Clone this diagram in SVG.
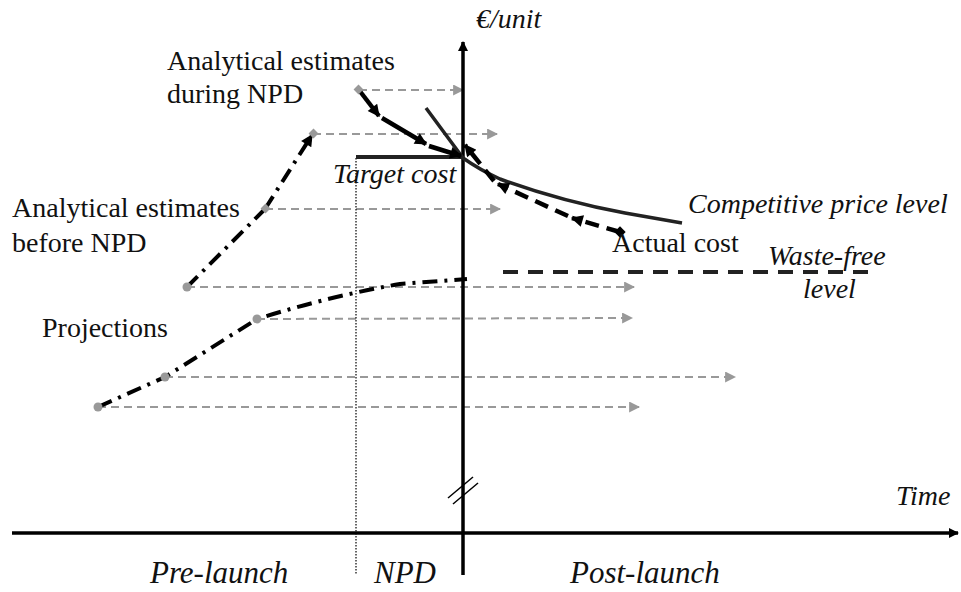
<svg xmlns="http://www.w3.org/2000/svg" width="961" height="592" viewBox="0 0 961 592">
<defs>
<style>
.t{font-family:'Liberation Serif','Times New Roman',Tinos,'DejaVu Serif',serif;font-size:28px;fill:#111}
.i{font-style:italic}
.b{font-size:31px}
.g{stroke:#999;stroke-width:2;stroke-dasharray:8 5;fill:none}
.dd{stroke:#000;stroke-width:4;stroke-dasharray:15 7 3 7;fill:none}
.bk{stroke:#000;stroke-width:4.5;fill:none}
.ad{stroke:#000;stroke-width:4.5;stroke-dasharray:14 8;fill:none}
.dot{fill:#999}
</style>
<marker id="ga" viewBox="0 0 10 10" refX="9" refY="5" markerWidth="11" markerHeight="11" markerUnits="userSpaceOnUse" orient="auto"><path d="M0,0 L10,5 L0,10 z" fill="#999"/></marker>
<marker id="ba" viewBox="0 0 10 10" refX="9" refY="5" markerWidth="14" markerHeight="12" markerUnits="userSpaceOnUse" orient="auto"><path d="M0,0 L10,5 L0,10 z" fill="#000"/></marker>
<marker id="ax" viewBox="0 0 10 10" refX="9" refY="5" markerWidth="14" markerHeight="10" markerUnits="userSpaceOnUse" orient="auto"><path d="M0,0 L10,5 L0,10 z" fill="#000"/></marker>
</defs>
<rect width="961" height="592" fill="#fff"/>

<g id="connectors">
<line class="g" x1="359" y1="90" x2="463" y2="90" marker-end="url(#ga)"/>
<line class="g" x1="313" y1="134" x2="497" y2="134" marker-end="url(#ga)"/>
<line class="g" x1="265" y1="209" x2="500" y2="209" marker-end="url(#ga)"/>
<line class="g" x1="187" y1="287" x2="634" y2="287" marker-end="url(#ga)"/>
<line class="g" x1="257" y1="319" x2="632" y2="318" marker-end="url(#ga)"/>
<line class="g" x1="165" y1="377" x2="735" y2="377" marker-end="url(#ga)"/>
<line class="g" x1="98" y1="407" x2="639" y2="407" marker-end="url(#ga)"/>
</g>

<g id="axes">
<line x1="356" y1="158" x2="356" y2="575" stroke="#000" stroke-width="1.2" stroke-dasharray="1.5 1.5"/>
<line x1="12" y1="533" x2="958" y2="533" stroke="#000" stroke-width="3.5" marker-end="url(#ax)"/>
<line x1="463" y1="575" x2="463" y2="42" stroke="#000" stroke-width="3.5" marker-end="url(#ax)"/>
<line x1="448" y1="498" x2="473" y2="477" stroke="#000" stroke-width="1.5"/>
<line x1="453" y1="504" x2="478" y2="483" stroke="#000" stroke-width="1.5"/>
</g>

<g id="target-cost">
<line x1="356" y1="157" x2="463" y2="157" stroke="#222" stroke-width="4"/>
<text class="t i" x="333" y="183">Target cost</text>
</g>

<g id="competitive-price">
<path d="M426,108 L463,158 Q480,170 500,179 Q560,201 625,213 L682,223" stroke="#222" stroke-width="3.5" fill="none"/>
<text class="t i" x="688" y="213">Competitive price level</text>
</g>

<g id="actual-cost">
<line class="ad" x1="620" y1="232" x2="572" y2="218" marker-end="url(#ba)"/>
<line class="ad" x1="568" y1="216" x2="498" y2="184" marker-end="url(#ba)"/>
<line class="ad" x1="494" y1="181" x2="465" y2="145" marker-end="url(#ba)"/>
<rect x="616" y="228" width="8" height="8" fill="#000" transform="rotate(45 620 232)"/>
<text class="t" x="612" y="252">Actual cost</text>
</g>

<g id="waste-free">
<line x1="503" y1="272" x2="868" y2="272" stroke="#222" stroke-width="4" stroke-dasharray="15 10"/>
<text class="t i" x="768" y="265">Waste-free</text>
<text class="t i" x="803" y="298">level</text>
</g>

<g id="estimates-during">
<line class="bk" x1="359" y1="90" x2="379" y2="116" marker-end="url(#ba)"/>
<line class="bk" x1="382" y1="118" x2="426" y2="144" marker-end="url(#ba)"/>
<line class="bk" x1="429" y1="146" x2="461" y2="156" marker-end="url(#ba)"/>
<rect x="355" y="86" width="7" height="7" class="dot" transform="rotate(45 358.5 89.5)"/>
<text class="t" x="167" y="70">Analytical estimates</text>
<text class="t" x="167" y="103">during NPD</text>
</g>

<g id="estimates-before">
<line class="dd" x1="187" y1="287" x2="265" y2="209"/>
<line class="dd" x1="265" y1="209" x2="312" y2="135" marker-end="url(#ba)"/>
<circle cx="187" cy="287" r="4.5" class="dot"/>
<rect x="262" y="205" width="7" height="7" class="dot" transform="rotate(45 265.5 208.5)"/>
<rect x="310" y="130" width="7" height="7" class="dot" transform="rotate(45 313.5 133.5)"/>
<text class="t" x="12" y="217">Analytical estimates</text>
<text class="t" x="12" y="252">before NPD</text>
</g>

<g id="projections">
<path class="dd" d="M98,407 L165,377 L257,319 Q330,296 400,284 L467,279"/>
<circle cx="98" cy="407" r="4.5" class="dot"/>
<circle cx="165" cy="377" r="4.5" class="dot"/>
<circle cx="257" cy="319" r="4.5" class="dot"/>
<text class="t" x="42" y="337">Projections</text>
</g>

<g id="labels">
<text class="t i" x="476" y="28">€/unit</text>
<text class="t i" x="896" y="505" font-size="30">Time</text>
<text class="t i b" x="150" y="583">Pre-launch</text>
<text class="t i b" x="374" y="583">NPD</text>
<text class="t i b" x="570" y="583">Post-launch</text>
</g>
</svg>
